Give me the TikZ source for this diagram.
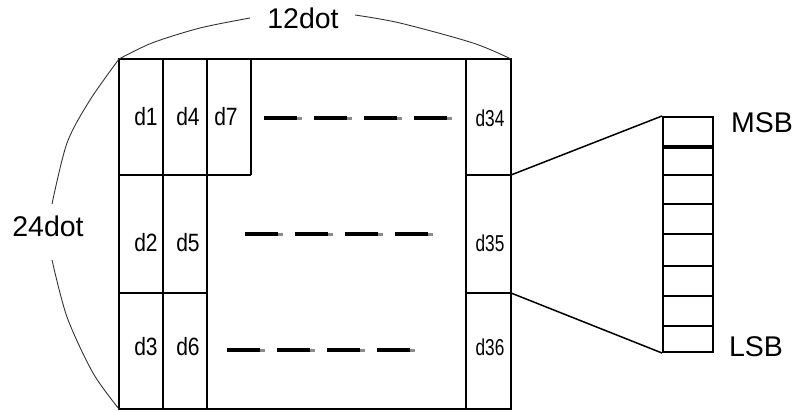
\documentclass[tikz,border=0pt]{standalone}
\usepackage{fontspec}
\setmainfont{Liberation Sans}
\begin{document}
\begin{tikzpicture}[x=1pt,y=-1pt,
  gridline/.style={line width=2pt},
  thickline/.style={line width=4pt},
  dimarc/.style={line width=0.9pt, draw=black!80},
  linkline/.style={line width=1.5pt},
  biglabel/.style={inner sep=0pt, font=\fontsize{28.5}{30}\selectfont},
  dlabel/.style={inner sep=0pt, font=\fontsize{25}{27}\selectfont},
  dlabelsmall/.style={inner sep=0pt, font=\fontsize{23}{25}\selectfont},
]
\useasboundingbox (0,0) rectangle (798,412);

% corners
\coordinate (TL) at (119,59);
\coordinate (TR) at (511,59);
\coordinate (BL) at (119,409);
\coordinate (BR) at (511,409);

% main frame and cells
\draw[gridline] (TL) rectangle (BR);
\draw[gridline] (163,59) -- (163,409);
\draw[gridline] (207,59) -- (207,409);
\draw[gridline] (466,59) -- (466,409);
\draw[gridline] (251,59) -- (251,175);
\draw[gridline] (119,175) -- (251,175);
\draw[gridline] (119,293) -- (207,293);
\draw[gridline] (466,175) -- (511,175);
\draw[gridline] (466,293) -- (511,293);

\coordinate (c34) at (511,175);
\coordinate (c36) at (511,293);

% cell labels
\node[dlabel] (d1) at (146,117) {\scalebox{0.84}[1]{d1}};
\node[dlabel] (d4) at (188,117) {\scalebox{0.84}[1]{d4}};
\node[dlabel] (d7) at (226,117) {\scalebox{0.84}[1]{d7}};
\node[dlabel] (d2) at (146,243) {\scalebox{0.84}[1]{d2}};
\node[dlabel] (d5) at (188,243) {\scalebox{0.84}[1]{d5}};
\node[dlabel] (d3) at (146,347) {\scalebox{0.84}[1]{d3}};
\node[dlabel] (d6) at (188,347) {\scalebox{0.84}[1]{d6}};
\node[dlabelsmall] (d34) at (490,118) {\scalebox{0.75}[1]{d34}};
\node[dlabelsmall] (d35) at (490,243) {\scalebox{0.75}[1]{d35}};
\node[dlabelsmall] (d36) at (490,347) {\scalebox{0.75}[1]{d36}};

% dash rows
\foreach \y/\xs in {118/264, 234/245, 350/227}{
  \foreach \k in {0,1,2,3}{
    \pgfmathsetmacro{\xa}{\xs+50*\k}
    \fill[black] (\xa,\y-2) rectangle ++(33,4);
    \fill[black!45] (\xa+33,\y-1.5) rectangle ++(5,3);
  }
}

% register
\node[draw, line width=2pt, minimum width=50pt, minimum height=235pt, inner sep=0pt] (reg) at (688,234.5) {};
\draw[thickline] (reg.west |- 0,147) -- (reg.east |- 0,147);
\foreach \yy in {175,204,234,266,296,326}{
  \draw[gridline] (reg.west |- 0,\yy) -- (reg.east |- 0,\yy);
}

% links to register
\draw[linkline] (c34) -- (reg.north west);
\draw[linkline] (c36) -- (reg.south west);

\node[biglabel] (msb) at (762,123) {MSB};
\node[biglabel] (lsb) at (756,347) {LSB};

% dimension labels and arcs
\node[biglabel] (w12) at (303,18) {12dot};
\node[biglabel] (h24) at (48,226) {24dot};

\draw[dimarc] plot[smooth] coordinates {(TL) (152,43) (200,28) (250,18)};
\draw[dimarc] plot[smooth] coordinates {(355,15) (400,23) (473,43) (TR)};
\draw[dimarc] plot[smooth] coordinates {(TL) (90,100) (67,143) (52,204)};
\draw[dimarc] plot[smooth] coordinates {(52,260) (67,317) (93,373) (BL)};
\end{tikzpicture}
\end{document}
